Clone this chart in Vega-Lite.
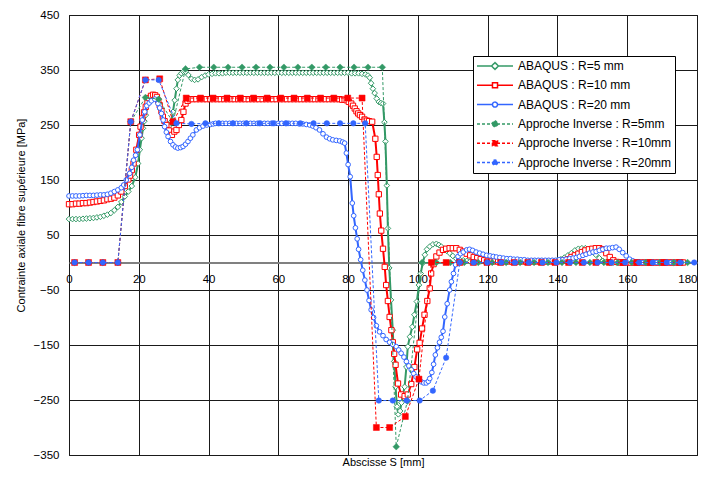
{
"$schema": "https://vega.github.io/schema/vega-lite/v6.json",
"width": 628, "height": 440,
"autosize": "none",
"padding": {"left": 69, "top": 15, "right": 9, "bottom": 29},
"background": "white",
"config": {
  "font": "Liberation Sans",
  "view": {"stroke": "#000000", "strokeWidth": 1},
  "axis": {"labelColor": "#000000", "titleColor": "#000000", "titleFontWeight": "normal", "labelFontSize": 11.5, "titleFontSize": 11, "gridColor": "#1a1a1a", "gridOpacity": 1, "gridWidth": 1, "labelOverlap": false},
  "legend": {"title": null, "orient": "none", "legendX": 404, "legendY": 41, "fillColor": "white", "strokeColor": "#000000", "padding": 3, "symbolSize": 1296, "clipHeight": 14, "rowPadding": 5.3, "labelOffset": 4, "labelFontSize": 12, "labelColor": "#000000", "labelLimit": 300, "symbolStrokeWidth": 1.5, "symbolOpacity": 1}
},
"datasets": {
"ga": [{"x":0,"y":79},{"x":1,"y":79},{"x":2,"y":79},{"x":3,"y":79},{"x":4,"y":79.5},{"x":5,"y":80},{"x":6,"y":80.5},{"x":7,"y":81},{"x":8,"y":82},{"x":9,"y":83},{"x":10,"y":85},{"x":11,"y":87},{"x":12,"y":90},{"x":13,"y":95},{"x":14,"y":101},{"x":15,"y":110},{"x":16,"y":120},{"x":17,"y":129},{"x":18,"y":139},{"x":19,"y":155},{"x":19.8,"y":180},{"x":20.3,"y":205},{"x":20.8,"y":226},{"x":21.2,"y":244},{"x":21.6,"y":257},{"x":22.0,"y":268},{"x":22.6,"y":289},{"x":23.3,"y":300},{"x":24.1,"y":305},{"x":24.8,"y":300},{"x":25.5,"y":292},{"x":26.2,"y":279},{"x":26.9,"y":265},{"x":27.4,"y":254},{"x":27.9,"y":247},{"x":28.6,"y":248},{"x":29.3,"y":256},{"x":29.8,"y":274},{"x":30.3,"y":295},{"x":30.8,"y":316},{"x":31.2,"y":332},{"x":31.7,"y":340},{"x":32.2,"y":344},{"x":32.8,"y":347},{"x":33.4,"y":347},{"x":34.2,"y":341},{"x":35.1,"y":334},{"x":36.0,"y":332},{"x":37.0,"y":333},{"x":38.0,"y":337},{"x":39,"y":340},{"x":40,"y":342},{"x":41,"y":343},{"x":42,"y":344},{"x":43,"y":344},{"x":44,"y":344},{"x":45,"y":345},{"x":46,"y":345},{"x":47,"y":345},{"x":48,"y":345},{"x":49,"y":345},{"x":50,"y":345},{"x":51,"y":345},{"x":52,"y":345},{"x":53,"y":345},{"x":54,"y":345},{"x":55,"y":345},{"x":56,"y":345},{"x":57,"y":345},{"x":58,"y":345},{"x":59,"y":345},{"x":60,"y":345},{"x":61,"y":345},{"x":62,"y":345},{"x":63,"y":345},{"x":64,"y":345},{"x":65,"y":345},{"x":66,"y":345},{"x":67,"y":345},{"x":68,"y":345},{"x":69,"y":345},{"x":70,"y":345},{"x":71,"y":345},{"x":72,"y":345},{"x":73,"y":345},{"x":74,"y":345},{"x":75,"y":345},{"x":76,"y":345},{"x":77,"y":345},{"x":78,"y":345},{"x":79,"y":345},{"x":80,"y":345},{"x":81,"y":344},{"x":82,"y":344},{"x":83,"y":344},{"x":84,"y":343},{"x":85,"y":342},{"x":85.7,"y":340},{"x":86.2,"y":336},{"x":86.6,"y":326},{"x":87.1,"y":316},{"x":87.6,"y":308},{"x":88.2,"y":298},{"x":88.8,"y":292},{"x":89.4,"y":290},{"x":90.0,"y":289},{"x":90.4,"y":255},{"x":90.7,"y":220},{"x":91.1,"y":140},{"x":91.4,"y":62},{"x":91.8,"y":-10},{"x":92.3,"y":-68},{"x":92.8,"y":-123},{"x":93.2,"y":-180},{"x":93.6,"y":-226},{"x":94.0,"y":-262},{"x":94.4,"y":-276},{"x":94.9,"y":-270},{"x":95.3,"y":-255},{"x":95.7,"y":-241},{"x":96.2,"y":-226},{"x":96.7,"y":-190},{"x":97.1,"y":-153},{"x":97.7,"y":-135},{"x":98.4,"y":-117},{"x":99.0,"y":-95},{"x":99.7,"y":-71},{"x":100.3,"y":-41},{"x":100.8,"y":-20},{"x":101.4,"y":-1},{"x":102.0,"y":14},{"x":102.6,"y":24},{"x":103.4,"y":29},{"x":104.3,"y":33},{"x":105.3,"y":34},{"x":106.0,"y":32},{"x":106.7,"y":29},{"x":107.5,"y":25},{"x":108.3,"y":21},{"x":109.1,"y":17},{"x":110,"y":12},{"x":111,"y":7},{"x":112,"y":5},{"x":113,"y":4},{"x":114,"y":3},{"x":115,"y":2},{"x":116,"y":2},{"x":117,"y":2},{"x":118,"y":2},{"x":119,"y":2},{"x":120,"y":2},{"x":121,"y":2},{"x":122,"y":2},{"x":123,"y":2},{"x":124,"y":2},{"x":125,"y":2},{"x":126,"y":2},{"x":127,"y":2},{"x":128,"y":2},{"x":129,"y":2},{"x":130,"y":2},{"x":131,"y":2},{"x":132,"y":2},{"x":133,"y":2},{"x":134,"y":2},{"x":135,"y":2},{"x":136,"y":2},{"x":137,"y":2},{"x":138,"y":2},{"x":139,"y":3},{"x":140,"y":4},{"x":141,"y":6},{"x":142,"y":9},{"x":143,"y":13},{"x":144,"y":17},{"x":145,"y":22},{"x":146,"y":25},{"x":147,"y":26},{"x":148,"y":26},{"x":149,"y":24},{"x":150,"y":20},{"x":151,"y":14},{"x":152,"y":8},{"x":153,"y":3},{"x":154,"y":1},{"x":155,"y":0},{"x":156,"y":0},{"x":157,"y":0},{"x":158,"y":0},{"x":159,"y":0},{"x":160,"y":0},{"x":161,"y":0},{"x":162,"y":0},{"x":163,"y":0},{"x":164,"y":0},{"x":165,"y":0},{"x":166,"y":0},{"x":167,"y":0},{"x":168,"y":0},{"x":169,"y":0},{"x":170,"y":0},{"x":171,"y":0},{"x":172,"y":0},{"x":173,"y":0},{"x":174,"y":0},{"x":175,"y":0},{"x":176,"y":0}],
"ra": [{"x":0,"y":106},{"x":1,"y":106},{"x":2,"y":107},{"x":3,"y":107},{"x":4,"y":108},{"x":5,"y":108},{"x":6,"y":109},{"x":7,"y":110},{"x":8,"y":111},{"x":9,"y":112},{"x":10,"y":113},{"x":11,"y":115},{"x":12,"y":116},{"x":13,"y":118},{"x":14,"y":122},{"x":15,"y":129},{"x":16,"y":139},{"x":17,"y":151},{"x":17.5,"y":158},{"x":18,"y":168},{"x":18.5,"y":180},{"x":19.3,"y":205},{"x":20.1,"y":232},{"x":20.5,"y":247},{"x":21.0,"y":262},{"x":21.5,"y":273},{"x":22.0,"y":283},{"x":22.5,"y":292},{"x":22.9,"y":299},{"x":23.5,"y":303},{"x":24.1,"y":305},{"x":24.7,"y":304},{"x":25.2,"y":301},{"x":25.6,"y":294},{"x":26.0,"y":286},{"x":26.5,"y":275},{"x":26.9,"y":265},{"x":27.4,"y":257},{"x":27.9,"y":250},{"x":28.7,"y":240},{"x":29.5,"y":232},{"x":30.2,"y":238},{"x":30.8,"y":241},{"x":31.5,"y":250},{"x":32.2,"y":259},{"x":32.8,"y":274},{"x":33.4,"y":289},{"x":34.0,"y":294},{"x":34.6,"y":297},{"x":35.5,"y":297},{"x":36.5,"y":297},{"x":37.5,"y":297},{"x":38.5,"y":297},{"x":39.5,"y":297},{"x":40.5,"y":297},{"x":41.5,"y":297},{"x":42.5,"y":297},{"x":43.5,"y":297},{"x":44.5,"y":297},{"x":45.5,"y":297},{"x":46.5,"y":297},{"x":47.5,"y":297},{"x":48.5,"y":297},{"x":49.5,"y":297},{"x":50.5,"y":297},{"x":51.5,"y":297},{"x":52.5,"y":297},{"x":53.5,"y":297},{"x":54.5,"y":297},{"x":55.5,"y":297},{"x":56.5,"y":297},{"x":57.5,"y":297},{"x":58.5,"y":297},{"x":59.5,"y":297},{"x":60.5,"y":297},{"x":61.5,"y":297},{"x":62.5,"y":297},{"x":63.5,"y":297},{"x":64.5,"y":297},{"x":65.5,"y":297},{"x":66.5,"y":297},{"x":67.5,"y":297},{"x":68.5,"y":297},{"x":69.5,"y":297},{"x":70.5,"y":297},{"x":71.5,"y":297},{"x":72.5,"y":297},{"x":73.5,"y":297},{"x":74.5,"y":297},{"x":75.5,"y":297},{"x":76.5,"y":297},{"x":77.5,"y":297},{"x":78.3,"y":296},{"x":79.0,"y":296},{"x":79.6,"y":295},{"x":80.2,"y":292},{"x":80.9,"y":289},{"x":81.4,"y":285},{"x":81.9,"y":280},{"x":82.4,"y":275},{"x":82.9,"y":271},{"x":83.4,"y":268},{"x":84.0,"y":265},{"x":84.7,"y":260},{"x":85.4,"y":258},{"x":86.0,"y":257},{"x":86.9,"y":256},{"x":87.8,"y":225},{"x":88.2,"y":192},{"x":88.5,"y":159},{"x":88.8,"y":124},{"x":89.1,"y":89},{"x":89.5,"y":58},{"x":90.0,"y":25},{"x":90.5,"y":-8},{"x":90.9,"y":-41},{"x":91.4,"y":-70},{"x":91.9,"y":-99},{"x":92.4,"y":-123},{"x":92.8,"y":-145},{"x":93.2,"y":-166},{"x":93.6,"y":-186},{"x":94.3,"y":-220},{"x":95.2,"y":-240},{"x":96.2,"y":-243},{"x":97.1,"y":-240},{"x":98.1,"y":-221},{"x":99.0,"y":-190},{"x":99.8,"y":-158},{"x":100.5,"y":-146},{"x":101.2,"y":-120},{"x":101.9,"y":-95},{"x":102.7,"y":-70},{"x":103.4,"y":-47},{"x":103.8,"y":-20},{"x":104.5,"y":-3},{"x":105.3,"y":11},{"x":106.2,"y":18},{"x":107.2,"y":23},{"x":108.1,"y":25},{"x":109.1,"y":26},{"x":110,"y":26},{"x":111,"y":26},{"x":112,"y":23},{"x":113,"y":20},{"x":114,"y":16},{"x":115,"y":13},{"x":116,"y":10},{"x":117,"y":8},{"x":118,"y":6},{"x":119,"y":4},{"x":120,"y":3},{"x":121,"y":2},{"x":122,"y":2},{"x":123,"y":2},{"x":124,"y":2},{"x":125,"y":2},{"x":126,"y":2},{"x":127,"y":2},{"x":128,"y":2},{"x":129,"y":2},{"x":130,"y":2},{"x":131,"y":2},{"x":132,"y":2},{"x":133,"y":2},{"x":134,"y":2},{"x":135,"y":2},{"x":136,"y":2},{"x":137,"y":2},{"x":138,"y":2},{"x":139,"y":2},{"x":140,"y":2},{"x":141,"y":3},{"x":142,"y":4},{"x":143,"y":6},{"x":144,"y":10},{"x":145,"y":13},{"x":146,"y":16},{"x":147,"y":19},{"x":148,"y":22},{"x":149,"y":24},{"x":150,"y":25},{"x":151,"y":26},{"x":152,"y":26},{"x":153,"y":24},{"x":154,"y":17},{"x":155,"y":10},{"x":156,"y":4},{"x":157,"y":1},{"x":158,"y":0},{"x":159,"y":0},{"x":160,"y":0},{"x":161,"y":0},{"x":162,"y":0},{"x":163,"y":0},{"x":164,"y":0},{"x":165,"y":0},{"x":166,"y":0},{"x":167,"y":0},{"x":168,"y":0},{"x":169,"y":0},{"x":170,"y":0},{"x":171,"y":0},{"x":172,"y":0},{"x":173,"y":0},{"x":174,"y":0},{"x":175,"y":0},{"x":176,"y":0}],
"ba": [{"x":0,"y":121},{"x":1,"y":121},{"x":2,"y":121},{"x":3,"y":121},{"x":4,"y":121.5},{"x":5,"y":122},{"x":6,"y":122},{"x":7,"y":122},{"x":8,"y":122.5},{"x":9,"y":123},{"x":10,"y":123},{"x":11,"y":124},{"x":12,"y":126},{"x":13,"y":129},{"x":14,"y":132},{"x":15,"y":136},{"x":15.7,"y":141},{"x":16.4,"y":150},{"x":17.4,"y":162},{"x":18.0,"y":173},{"x":18.5,"y":186},{"x":19.1,"y":195},{"x":19.6,"y":205},{"x":20.3,"y":232},{"x":21.0,"y":259},{"x":21.7,"y":274},{"x":22.3,"y":285},{"x":23.0,"y":290},{"x":23.6,"y":294},{"x":24.6,"y":297},{"x":25.5,"y":289},{"x":26.0,"y":281},{"x":26.5,"y":271},{"x":27.0,"y":259},{"x":27.4,"y":247},{"x":27.9,"y":237},{"x":28.4,"y":229},{"x":29.1,"y":220},{"x":29.8,"y":214},{"x":30.5,"y":210},{"x":31.2,"y":208},{"x":32.0,"y":209},{"x":32.7,"y":211},{"x":33.4,"y":215},{"x":34.1,"y":220},{"x":34.8,"y":226},{"x":35.5,"y":232},{"x":36.5,"y":241},{"x":37.4,"y":245},{"x":38.4,"y":248},{"x":39.5,"y":250},{"x":40.5,"y":251},{"x":41.3,"y":252},{"x":42,"y":253},{"x":43,"y":253},{"x":44,"y":253},{"x":45,"y":253},{"x":46,"y":253},{"x":47,"y":253},{"x":48,"y":253},{"x":49,"y":253},{"x":50,"y":253},{"x":51,"y":253},{"x":52,"y":253},{"x":53,"y":253},{"x":54,"y":253},{"x":55,"y":253},{"x":56,"y":253},{"x":57,"y":253},{"x":58,"y":253},{"x":59,"y":253},{"x":60,"y":253},{"x":61,"y":253},{"x":62,"y":253},{"x":63,"y":253},{"x":64,"y":253},{"x":65,"y":253},{"x":66,"y":252},{"x":67,"y":252},{"x":68,"y":251},{"x":69,"y":250},{"x":69.9,"y":248},{"x":70.8,"y":245},{"x":71.8,"y":241},{"x":72.8,"y":234},{"x":73.8,"y":228},{"x":74.7,"y":225},{"x":75.6,"y":223},{"x":76.6,"y":222},{"x":77.6,"y":221},{"x":78.4,"y":219},{"x":79.0,"y":217},{"x":79.5,"y":199},{"x":80.0,"y":178},{"x":80.6,"y":156},{"x":81.2,"y":108},{"x":81.6,"y":85},{"x":82.1,"y":63},{"x":82.6,"y":43},{"x":83.0,"y":24},{"x":83.6,"y":5},{"x":84.2,"y":-14},{"x":84.8,"y":-32},{"x":85.4,"y":-50},{"x":86.0,"y":-69},{"x":86.6,"y":-86},{"x":87.3,"y":-100},{"x":88.1,"y":-115},{"x":89.0,"y":-126},{"x":90.0,"y":-133},{"x":90.9,"y":-140},{"x":91.9,"y":-145},{"x":92.8,"y":-149},{"x":93.8,"y":-153},{"x":94.5,"y":-159},{"x":95.2,"y":-165},{"x":96.0,"y":-172},{"x":96.7,"y":-180},{"x":97.4,"y":-188},{"x":98.1,"y":-195},{"x":98.8,"y":-202},{"x":99.5,"y":-208},{"x":100.2,"y":-213},{"x":101.0,"y":-217},{"x":101.7,"y":-219},{"x":102.4,"y":-219},{"x":103.0,"y":-216},{"x":103.4,"y":-211},{"x":104.0,"y":-200},{"x":104.5,"y":-185},{"x":105.0,"y":-168},{"x":105.6,"y":-155},{"x":106.2,"y":-145},{"x":106.7,"y":-136},{"x":107.2,"y":-125},{"x":107.7,"y":-99},{"x":108.4,"y":-75},{"x":109.1,"y":-50},{"x":109.6,"y":-35},{"x":110.2,"y":-20},{"x":110.8,"y":-4},{"x":111.5,"y":11},{"x":112.2,"y":16},{"x":113,"y":19},{"x":114,"y":23},{"x":114.8,"y":24},{"x":115.7,"y":22},{"x":116.7,"y":19},{"x":117.7,"y":17},{"x":118.7,"y":15},{"x":119.7,"y":13},{"x":120.7,"y":12},{"x":121.6,"y":11},{"x":122.5,"y":10},{"x":123.5,"y":9},{"x":124.5,"y":8},{"x":125.5,"y":7},{"x":126.5,"y":7},{"x":127.5,"y":6},{"x":128.5,"y":6},{"x":129.5,"y":5},{"x":130.5,"y":5},{"x":131.5,"y":4},{"x":132.5,"y":4},{"x":133.5,"y":4},{"x":134.5,"y":4},{"x":135.5,"y":4},{"x":136.5,"y":4},{"x":137.5,"y":4},{"x":138.5,"y":4},{"x":139.5,"y":4},{"x":140.5,"y":5},{"x":141.5,"y":5},{"x":142.5,"y":6},{"x":143.5,"y":7},{"x":144.5,"y":8},{"x":145.4,"y":9},{"x":146.3,"y":11},{"x":147.3,"y":13},{"x":148.2,"y":15},{"x":149.2,"y":17},{"x":150.2,"y":19},{"x":151.1,"y":20},{"x":152.0,"y":22},{"x":153.0,"y":24},{"x":154.0,"y":26},{"x":154.9,"y":26},{"x":155.8,"y":27},{"x":156.8,"y":28},{"x":157.7,"y":24},{"x":158.7,"y":18},{"x":159.7,"y":12},{"x":160.7,"y":6},{"x":161.6,"y":3},{"x":162.5,"y":1},{"x":163.5,"y":0},{"x":164.5,"y":0},{"x":165.5,"y":0},{"x":166.5,"y":0},{"x":167.5,"y":0},{"x":168.5,"y":0},{"x":169.5,"y":0},{"x":170.5,"y":0},{"x":171.5,"y":0},{"x":172.5,"y":0},{"x":173.5,"y":0},{"x":174.5,"y":0},{"x":175.5,"y":0}],
"gi": [{"x":1.6,"y":0},{"x":5.6,"y":0},{"x":9.7,"y":0},{"x":14.0,"y":0},{"x":17.7,"y":256},{"x":21.9,"y":300},{"x":25.7,"y":297},{"x":29.8,"y":255},{"x":33.4,"y":352},{"x":37.4,"y":355},{"x":41.5,"y":355},{"x":45.6,"y":355},{"x":49.6,"y":355},{"x":53.6,"y":355},{"x":57.6,"y":355},{"x":61.6,"y":355},{"x":65.6,"y":355},{"x":69.6,"y":355},{"x":73.6,"y":355},{"x":77.7,"y":355},{"x":81.7,"y":355},{"x":85.7,"y":355},{"x":89.8,"y":355},{"x":93.8,"y":-335},{"x":97.0,"y":-252},{"x":101.2,"y":0},{"x":105.3,"y":0},{"x":109.3,"y":0},{"x":113.3,"y":0},{"x":117.3,"y":0},{"x":121.3,"y":0},{"x":125.3,"y":0},{"x":129.3,"y":0},{"x":133.3,"y":0},{"x":137.3,"y":0},{"x":141.3,"y":0},{"x":145.3,"y":0},{"x":149.3,"y":0},{"x":153.3,"y":0},{"x":157.3,"y":0},{"x":161.3,"y":0},{"x":165.3,"y":0},{"x":169.3,"y":0},{"x":173.3,"y":0},{"x":177.3,"y":0}],
"ri": [{"x":1.6,"y":0},{"x":5.6,"y":0},{"x":9.7,"y":0},{"x":14.0,"y":0},{"x":17.7,"y":256},{"x":21.9,"y":332},{"x":26.0,"y":334},{"x":29.8,"y":256},{"x":33.6,"y":299},{"x":37.7,"y":299},{"x":41.3,"y":299},{"x":45.3,"y":299},{"x":49.1,"y":299},{"x":52.9,"y":299},{"x":56.8,"y":299},{"x":60.7,"y":299},{"x":64.5,"y":299},{"x":68.3,"y":299},{"x":72.1,"y":299},{"x":75.9,"y":299},{"x":79.9,"y":299},{"x":84.0,"y":299},{"x":88.1,"y":-300},{"x":91.9,"y":-300},{"x":96.4,"y":-280},{"x":100.3,"y":-212},{"x":103.9,"y":0},{"x":108.1,"y":0},{"x":112.0,"y":0},{"x":115.9,"y":0},{"x":119.8,"y":0},{"x":123.7,"y":0},{"x":127.6,"y":0},{"x":131.5,"y":0},{"x":135.4,"y":0},{"x":139.3,"y":0},{"x":143.2,"y":0},{"x":147.1,"y":0},{"x":151.0,"y":0},{"x":154.9,"y":0},{"x":158.8,"y":0},{"x":162.7,"y":0},{"x":166.6,"y":0},{"x":170.5,"y":0},{"x":175.0,"y":0}],
"bi": [{"x":1.6,"y":0},{"x":5.6,"y":0},{"x":9.7,"y":0},{"x":14.0,"y":0},{"x":17.7,"y":256},{"x":21.9,"y":332},{"x":25.7,"y":332},{"x":30.8,"y":253},{"x":35.1,"y":252},{"x":39.1,"y":253},{"x":42.9,"y":253},{"x":47.0,"y":253},{"x":50.8,"y":253},{"x":54.6,"y":253},{"x":58.5,"y":253},{"x":62.3,"y":253},{"x":66.3,"y":253},{"x":70.1,"y":253},{"x":73.9,"y":253},{"x":77.7,"y":253},{"x":81.5,"y":253},{"x":84.9,"y":253},{"x":88.8,"y":-251},{"x":92.8,"y":-251},{"x":96.8,"y":-251},{"x":100.5,"y":-251},{"x":104.3,"y":-233},{"x":108.1,"y":-173},{"x":112.0,"y":0},{"x":116.0,"y":0},{"x":119.9,"y":0},{"x":123.9,"y":0},{"x":127.8,"y":0},{"x":131.8,"y":0},{"x":135.7,"y":0},{"x":139.7,"y":0},{"x":143.6,"y":0},{"x":147.6,"y":0},{"x":151.5,"y":0},{"x":155.5,"y":0},{"x":159.4,"y":0},{"x":163.4,"y":0},{"x":167.3,"y":0},{"x":171.3,"y":0},{"x":175.2,"y":0},{"x":179.2,"y":0}],
"none": []
},
"encoding": {
  "x": {"field": "x", "type": "quantitative",
    "scale": {"domain": [0, 180], "nice": false, "zero": false},
    "axis": {"values": [0,20,40,60,80,100,120,140,160,180], "offset": -192.5, "grid": true, "ticks": false, "labelPadding": 11, "labelFlush": false, "labelAlign": {"expr": "datum.value === 180 ? 'right' : 'center'"}, "domainColor": "#808080", "domainWidth": 2, "title": "Abscisse S [mm]", "titleY": 200, "titleBaseline": "middle"}},
  "y": {"field": "y", "type": "quantitative",
    "scale": {"domain": [-350, 450], "nice": false, "zero": false},
    "axis": {"values": [-350,-250,-150,-50,50,150,250,350,450], "grid": true, "ticks": false, "domain": false, "labelFlush": false, "labelPadding": 10, "title": "Contrainte axiale fibre supérieure [MPa]", "titleX": -48, "titleY": 200, "titleBaseline": "middle", "titleAngle": -90}}
},
"layer": [
  {"data": {"name": "none"}, "mark": {"type": "point", "filled": true, "opacity": 1},
   "encoding": {
     "shape": {"datum": "ABAQUS : R=5 mm",
       "scale": {"domain": ["ABAQUS : R=5 mm", "ABAQUS : R=10 mm", "ABAQUS : R=20 mm", "Approche Inverse : R=5mm", "Approche Inverse : R=10mm", "Approche Inverse : R=20mm"],
                 "range": ["M-1,0H-0.19M0.19,0H1M-0.19,0L0,-0.19L0.19,0L0,0.19Z", "M-1,0H-0.14M0.14,0H1M-0.14,-0.14H0.14V0.14H-0.14Z", "M-1,0H-0.14M0.14,0H1M-0.14,0A0.14,0.14,0,1,0,0.14,0A0.14,0.14,0,1,0,-0.14,0Z", "M-1,0H1M-0.19,0L0,-0.19L0.19,0L0,0.19Z", "M-1,0H1M-0.14,-0.14H0.14V0.14H-0.14Z", "M-1,0H1M-0.14,0A0.14,0.14,0,1,0,0.14,0A0.14,0.14,0,1,0,-0.14,0Z"]}},
     "fill": {"datum": "ABAQUS : R=5 mm",
       "scale": {"domain": ["ABAQUS : R=5 mm", "ABAQUS : R=10 mm", "ABAQUS : R=20 mm", "Approche Inverse : R=5mm", "Approche Inverse : R=10mm", "Approche Inverse : R=20mm"],
                 "range": ["#ffffff", "#ffffff", "#ffffff", "#339966", "#ff0000", "#3366ff"]}},
     "stroke": {"datum": "ABAQUS : R=5 mm",
       "scale": {"domain": ["ABAQUS : R=5 mm", "ABAQUS : R=10 mm", "ABAQUS : R=20 mm", "Approche Inverse : R=5mm", "Approche Inverse : R=10mm", "Approche Inverse : R=20mm"],
                 "range": ["#339966", "#ff0000", "#3366ff", "#339966", "#ff0000", "#3366ff"]}},
     "strokeDash": {"datum": "ABAQUS : R=5 mm",
       "scale": {"domain": ["ABAQUS : R=5 mm", "ABAQUS : R=10 mm", "ABAQUS : R=20 mm", "Approche Inverse : R=5mm", "Approche Inverse : R=10mm", "Approche Inverse : R=20mm"],
                 "range": [[1, 0], [1, 0], [1, 0], [3, 2], [3, 2], [3, 2]]}}
   }},
  {"data": {"name": "ga"}, "mark": {"type": "line", "strokeWidth": 2}, "encoding": {"stroke": {"datum": "ABAQUS : R=5 mm"}, "strokeDash": {"datum": "ABAQUS : R=5 mm"}}},
  {"data": {"name": "ga"}, "mark": {"type": "point", "shape": "diamond", "filled": true, "size": 32, "strokeWidth": 1, "opacity": 1}, "encoding": {"stroke": {"datum": "ABAQUS : R=5 mm"}, "fill": {"datum": "ABAQUS : R=5 mm"}}},
  {"data": {"name": "ra"}, "mark": {"type": "line", "strokeWidth": 2}, "encoding": {"stroke": {"datum": "ABAQUS : R=10 mm"}, "strokeDash": {"datum": "ABAQUS : R=10 mm"}}},
  {"data": {"name": "ra"}, "mark": {"type": "point", "shape": "square", "filled": true, "size": 28, "strokeWidth": 1, "opacity": 1}, "encoding": {"stroke": {"datum": "ABAQUS : R=10 mm"}, "fill": {"datum": "ABAQUS : R=10 mm"}}},
  {"data": {"name": "ba"}, "mark": {"type": "line", "strokeWidth": 2}, "encoding": {"stroke": {"datum": "ABAQUS : R=20 mm"}, "strokeDash": {"datum": "ABAQUS : R=20 mm"}}},
  {"data": {"name": "ba"}, "mark": {"type": "point", "shape": "circle", "filled": true, "size": 22, "strokeWidth": 1, "opacity": 1}, "encoding": {"stroke": {"datum": "ABAQUS : R=20 mm"}, "fill": {"datum": "ABAQUS : R=20 mm"}}},
  {"data": {"name": "gi"}, "mark": {"type": "line", "strokeWidth": 1}, "encoding": {"stroke": {"datum": "Approche Inverse : R=5mm"}, "strokeDash": {"datum": "Approche Inverse : R=5mm"}}},
  {"data": {"name": "gi"}, "mark": {"type": "point", "shape": "diamond", "filled": true, "size": 44, "strokeWidth": 0.5, "opacity": 1}, "encoding": {"stroke": {"datum": "Approche Inverse : R=5mm"}, "fill": {"datum": "Approche Inverse : R=5mm"}}},
  {"data": {"name": "ri"}, "mark": {"type": "line", "strokeWidth": 1}, "encoding": {"stroke": {"datum": "Approche Inverse : R=10mm"}, "strokeDash": {"datum": "Approche Inverse : R=10mm"}}},
  {"data": {"name": "ri"}, "mark": {"type": "point", "shape": "square", "filled": true, "size": 36, "strokeWidth": 0.5, "opacity": 1}, "encoding": {"stroke": {"datum": "Approche Inverse : R=10mm"}, "fill": {"datum": "Approche Inverse : R=10mm"}}},
  {"data": {"name": "bi"}, "mark": {"type": "line", "strokeWidth": 1}, "encoding": {"stroke": {"datum": "Approche Inverse : R=20mm"}, "strokeDash": {"datum": "Approche Inverse : R=20mm"}}},
  {"data": {"name": "bi"}, "mark": {"type": "point", "shape": "circle", "filled": true, "size": 30, "strokeWidth": 0.5, "opacity": 1}, "encoding": {"stroke": {"datum": "Approche Inverse : R=20mm"}, "fill": {"datum": "Approche Inverse : R=20mm"}}}
]
}
